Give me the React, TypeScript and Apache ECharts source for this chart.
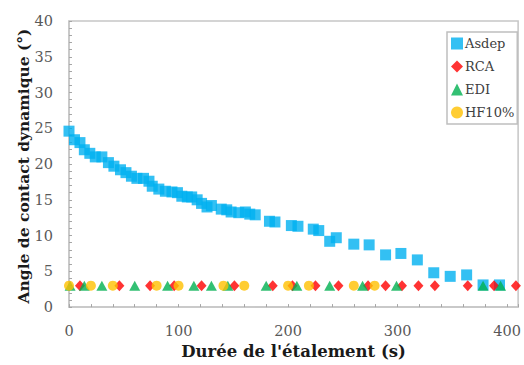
import React, { useEffect, useRef } from "react";
import * as echarts from "echarts";

// Asdep: time (s) and dynamic contact angle (°)
const asdepTime = [0, 5, 10, 14, 19, 24, 30, 36, 41, 47, 52, 57, 62, 68, 73, 76, 82, 88, 94, 99, 103, 108, 112, 117, 121, 126, 130, 139, 144, 148, 155, 161, 165, 170, 183, 188, 203, 209, 223, 228, 238, 244, 260, 274, 289, 303, 318, 333, 348, 363, 378, 393];
const asdepAngle = [24.6, 23.4, 23.0, 22.0, 21.5, 21.0, 21.0, 20.2, 19.7, 19.2, 18.8, 18.3, 18.0, 18.0, 17.6, 16.9, 16.5, 16.2, 16.1, 16.0, 15.5, 15.4, 15.4, 15.0, 14.5, 14.0, 14.2, 13.7, 13.6, 13.3, 13.2, 13.3, 13.0, 12.9, 12.0, 11.9, 11.4, 11.3, 10.9, 10.7, 9.2, 9.7, 8.8, 8.7, 7.3, 7.5, 6.6, 4.8, 4.3, 4.5, 3.1, 3.1];

const rcaTime = [10, 46, 74, 96, 121, 151, 186, 204, 225, 246, 273, 289, 304, 319, 334, 364, 388, 408];
const rcaAngle = [3, 3, 3, 3, 3, 3, 3, 3, 3, 3, 3, 3, 3, 3, 3, 3, 3, 3];

const ediTime = [1, 14, 30, 60, 90, 114, 130, 145, 180, 208, 238, 268, 299, 378, 394];
const ediAngle = [3, 3, 3, 3, 3, 3, 3, 3, 3, 3, 3, 3, 3, 3, 3];

const hfTime = [0, 20, 40, 80, 100, 141, 160, 200, 219, 260, 279];
const hfAngle = [3, 3, 3, 3, 3, 3, 3, 3, 3, 3, 3];

const xLabels = [0, 100, 200, 300, 400];
const yLabels = [0, 5, 10, 15, 20, 25, 30, 35, 40];

const seriesNames = ["Asdep", "RCA", "EDI", "HF10%"];
const yTitle = "Angle de contact dynamique (°)";

const pairs = (xs: number[], ys: number[]) => xs.map((x, i) => [x, ys[i]]);

export default function App() {
  const ref = useRef<HTMLDivElement>(null);
  useEffect(() => {
    if (!ref.current) return;
    const chart = echarts.init(ref.current, undefined, { renderer: "svg" });
    const serif = "DejaVu Serif";
    const gray = "#595959";
    const line = "#c6c6c6";
    chart.setOption({
      animation: false,
      backgroundColor: "#ffffff",
      grid: {
        left: 69,
        right: 3,
        top: 21,
        bottom: 55,
        show: true,
        borderColor: line,
        borderWidth: 1.5,
      },
      graphic: [
        {
          type: "text",
          x: 23,
          y: 166,
          rotation: Math.PI / 2,
          style: {
            text: yTitle,
            fontFamily: serif,
            fontWeight: "bold",
            fontSize: 15.5,
            fill: "#1a1a1a",
            align: "center",
            verticalAlign: "middle",
          },
        },
      ],
      legend: {
        orient: "vertical",
        left: 447,
        top: 32,
        padding: [5, 3, 5, 4],
        itemGap: 10,
        itemWidth: 12,
        itemHeight: 12,
        borderColor: "#bfbfbf",
        borderWidth: 1.5,
        borderRadius: 0,
        textStyle: { fontFamily: serif, fontSize: 13, color: "#404040", padding: [0, 0, 0, -3] },
        data: [
          { name: seriesNames[0], icon: "rect" },
          { name: seriesNames[1], icon: "diamond" },
          { name: seriesNames[2], icon: "triangle" },
          { name: seriesNames[3], icon: "circle" },
        ],
      },
      xAxis: {
        type: "value",
        min: 0,
        max: 410,
        interval: 20,
        name: "Durée de l'étalement (s)",
        nameLocation: "middle",
        nameGap: 30,
        nameTextStyle: { fontFamily: serif, fontWeight: "bold", fontSize: 16.5, color: "#1a1a1a" },
        axisLine: { show: true, lineStyle: { color: line, width: 1.5 } },
        axisTick: { show: true, inside: true, length: 3, lineStyle: { color: "#a6a6a6" } },
        axisLabel: {
          fontFamily: serif,
          fontSize: 14.5,
          color: gray,
          margin: 16,
          formatter: (v: number) => (xLabels.includes(v) ? String(v) : ""),
        },
        splitLine: { show: false },
      },
      yAxis: {
        type: "value",
        min: 0,
        max: 40,
        interval: 1,
        axisLine: { show: true, lineStyle: { color: line, width: 1.5 } },
        axisTick: { show: true, inside: true, length: 3, lineStyle: { color: "#a6a6a6" } },
        axisLabel: {
          fontFamily: serif,
          fontSize: 14.5,
          color: gray,
          margin: 16,
          formatter: (v: number) => (yLabels.includes(v) ? String(v) : ""),
        },
        splitLine: { show: false },
      },
      series: [
        {
          name: seriesNames[0],
          type: "scatter",
          symbol: "rect",
          symbolSize: 11,
          itemStyle: { color: "#00b0f0" },
          data: pairs(asdepTime, asdepAngle),
        },
        {
          name: seriesNames[1],
          type: "scatter",
          symbol: "diamond",
          symbolSize: [10, 11],
          itemStyle: { color: "#ff0000" },
          data: pairs(rcaTime, rcaAngle),
        },
        {
          name: seriesNames[2],
          type: "scatter",
          symbol: "triangle",
          symbolSize: [11, 10],
          itemStyle: { color: "#00b050" },
          data: pairs(ediTime, ediAngle),
        },
        {
          name: seriesNames[3],
          type: "scatter",
          symbol: "circle",
          symbolSize: 10,
          itemStyle: { color: "#ffc000" },
          data: pairs(hfTime, hfAngle),
        },
      ],
    });
    return () => chart.dispose();
  }, []);
  return <div ref={ref} style={{ width: 524, height: 365, position: "absolute", left: 0, top: 0 }} />;
}
